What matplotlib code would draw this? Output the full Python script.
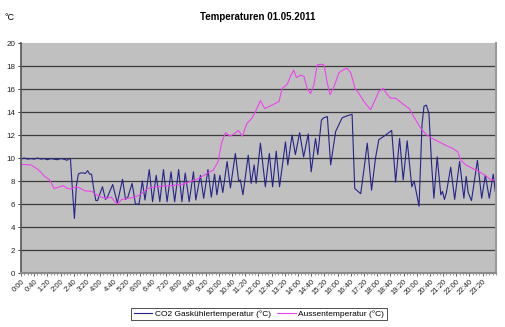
import numpy as np
from matplotlib import pyplot as plt
from matplotlib.ticker import MultipleLocator, FixedLocator, FuncFormatter

plt.rcParams['font.family'] = ['Liberation Sans', 'DejaVu Sans']

# CO2 Gaskühlertemperatur (time, °C)
co2_time = ['0:00', '0:10', '0:20', '0:30', '0:40', '0:50', '1:00', '1:10', '1:20', '1:30',
            '1:40', '1:50', '2:00', '2:10', '2:20', '2:25', '2:30', '2:36', '2:42', '2:48',
            '2:54', '3:00', '3:10', '3:15', '3:22', '3:28', '3:34', '3:40', '3:47', '3:52',
            '4:07', '4:16', '4:22', '4:38', '4:52', '5:08', '5:17', '5:24', '5:37', '5:47',
            '5:58', '6:08', '6:16', '6:29', '6:39', '6:50', '7:01', '7:12', '7:23', '7:35',
            '7:46', '7:58', '8:08', '8:18', '8:30', '8:43', '8:50', '9:04', '9:14', '9:27',
            '9:37', '9:47', '9:54', '10:03', '10:12', '10:25', '10:35', '10:50', '11:00', '11:05',
            '11:13', '11:29', '11:38', '11:47', '11:53', '12:06', '12:21', '12:33', '12:43', '12:54',
            '13:04', '13:22', '13:29', '13:42', '13:52', '14:05', '14:17', '14:31', '14:40', '14:53',
            '15:00', '15:11', '15:18', '15:29', '15:39', '15:54', '16:14', '16:32', '16:44', '16:52',
            '17:10', '17:20', '17:30', '17:43', '17:55', '18:05', '18:26', '18:44', '18:56', '19:08',
            '19:19', '19:31', '19:45', '19:52', '20:07', '20:16', '20:22', '20:29', '20:37', '20:45',
            '20:52', '21:02', '21:13', '21:18', '21:24', '21:30', '21:43', '21:55', '22:10', '22:23',
            '22:30', '22:36', '22:46', '23:04', '23:17', '23:28', '23:40', '23:52', '23:58']
co2_temp = [9.9, 10.0, 9.9, 9.95, 9.9, 10.0, 9.9, 9.95, 9.85, 9.95,
            9.9, 9.85, 9.95, 9.9, 9.8, 9.95, 9.9, 7.2, 4.75, 7.6,
            8.6, 8.7, 8.7, 8.65, 8.9, 8.6, 8.6, 7.4, 6.3, 6.3,
            7.5, 6.4, 6.6, 7.7, 6.1, 8.15, 6.4, 6.6, 7.8, 6.0,
            6.0, 8.0, 6.35, 9.0, 6.2, 8.5, 6.2, 9.0, 6.2, 8.8,
            6.2, 9.0, 6.2, 8.7, 6.2, 8.8, 6.35, 8.5, 6.5, 9.0,
            6.6, 8.6, 6.8, 8.5, 7.0, 9.7, 7.4, 10.4, 8.0, 8.1,
            6.8, 10.25, 7.8, 9.4, 7.8, 11.3, 7.5, 10.4, 7.5, 10.6,
            7.5, 11.4, 9.4, 12.0, 10.3, 12.2, 10.1, 12.1, 8.8, 11.7,
            10.3, 13.3, 13.5, 13.6, 9.4, 12.3, 13.5, 13.7, 13.8, 7.35,
            6.9, 9.0, 11.3, 7.2, 10.0, 11.6, 12.0, 12.4, 7.9, 11.7,
            8.1, 11.5, 7.5, 8.0, 5.8, 12.9, 14.5, 14.6, 13.9, 9.5,
            6.5, 10.1, 6.8, 7.1, 6.4, 7.0, 9.2, 6.4, 9.7, 6.5,
            8.4, 7.0, 6.3, 9.8, 6.5, 8.5, 6.5, 8.6, 7.1]

# Aussentemperatur
out_time = ['0:00', '0:30', '0:52', '1:12', '1:27', '1:40', '1:52', '2:08', '2:21', '2:33',
            '2:45', '2:58', '3:13', '3:34', '3:49', '4:04', '4:19', '4:34', '4:44', '4:53',
            '5:05', '5:25', '5:46', '6:05', '6:21', '6:36', '7:06', '7:37', '8:07', '8:28',
            '8:58', '9:23', '9:43', '9:58', '10:08', '10:20', '10:34', '10:49', '10:59', '11:11',
            '11:25', '11:40', '11:52', '12:06', '12:19', '12:41', '13:02', '13:12', '13:27', '13:37',
            '13:47', '13:55', '14:08', '14:18', '14:28', '14:38', '14:48', '14:58', '15:11', '15:19',
            '15:29', '15:37', '15:49', '16:04', '16:19', '16:29', '16:40', '16:53', '17:05', '17:20',
            '17:40', '17:53', '18:05', '18:18', '18:31', '18:41', '18:56', '19:16', '19:37', '19:57',
            '20:12', '20:28', '20:47', '21:08', '21:28', '21:48', '22:04', '22:14', '22:29', '22:49',
            '23:10', '23:29', '23:45', '23:59']
out_temp = [9.45, 9.4, 9.0, 8.4, 8.1, 7.35, 7.45, 7.6, 7.35, 7.3,
            7.5, 7.4, 7.15, 7.1, 6.8, 6.6, 6.5, 6.6, 6.2, 6.0,
            6.4, 6.5, 6.6, 6.9, 7.3, 7.45, 7.55, 7.6, 7.7, 7.9,
            8.2, 8.65, 8.95, 9.7, 11.3, 12.2, 11.9, 12.15, 12.4, 11.9,
            13.0, 13.45, 14.1, 15.0, 14.3, 14.6, 14.9, 16.05, 16.4, 17.1,
            17.65, 17.0, 17.2, 17.1, 16.05, 15.6, 16.35, 18.1, 18.15, 18.1,
            16.5, 15.5, 16.2, 17.4, 17.7, 17.8, 17.4, 16.05, 15.6, 14.9,
            14.2, 15.0, 15.8, 16.05, 15.5, 15.2, 15.2, 14.75, 14.3, 13.3,
            12.6, 12.05, 11.7, 11.4, 11.1, 10.85, 10.55, 9.8, 9.4, 9.1,
            8.8, 8.46, 8.1, 8.1]

labels = ['CO2 Gaskühlertemperatur (°C)', 'Aussentemperatur (°C)']


def to_min(s):
  h, m = s.split(':')
  return int(h) * 60 + int(m)


fig = plt.figure(figsize=(5.06, 3.27), dpi=100)
ax = fig.add_axes([0.0415, 0.165, 0.9385, 0.7035])
ax.set_facecolor('#C0C0C0')

ax.plot([to_min(t) for t in co2_time], co2_temp, color='#24248A', lw=0.8, label=labels[0])
ax.plot([to_min(t) for t in out_time], out_temp, color='#EE44EE', lw=0.8, label=labels[1])

ax.set_xlim(0, 1440)
ax.set_ylim(0, 20)
ax.yaxis.set_major_locator(MultipleLocator(2))
ax.xaxis.set_major_locator(FixedLocator(np.arange(0, 1401, 40)))
ax.xaxis.set_minor_locator(MultipleLocator(10))
ax.xaxis.set_major_formatter(FuncFormatter(lambda v, p: '%d:%02d' % (v // 60, v % 60)))

for y in range(2, 20, 2):
  ax.axhline(y, color='#3A3A3A', lw=0.9, zorder=1)

ax.tick_params(axis='y', labelsize=5.8, length=2.5, width=0.6, pad=1.5, colors='#222222')
ax.tick_params(axis='x', which='major', labelsize=5.5, length=2.5, width=0.5, pad=1, colors='#222222')
ax.tick_params(axis='x', which='minor', length=1.5, width=0.4, color='#444444')
for lbl in ax.get_xticklabels():
  lbl.set_rotation(45)
  lbl.set_ha('right')
  lbl.set_rotation_mode('anchor')

ax.spines['top'].set_visible(False)
ax.spines['left'].set_color('#555555')
ax.spines['left'].set_linewidth(1.2)
ax.spines['bottom'].set_color('#8A8A8A')
ax.spines['bottom'].set_linewidth(1.5)
ax.spines['right'].set_color('#9A9A9A')
ax.spines['right'].set_linewidth(1.5)

fig.text(0.509, 0.947, 'Temperaturen 01.05.2011', ha='center', va='center', fontsize=7, fontweight='bold')
fig.text(0.008, 0.945, '°C', ha='left', va='center', fontsize=6.5)

leg = fig.legend(loc='center', bbox_to_anchor=(0.512, 0.04), ncol=2, fontsize=6,
                 frameon=True, fancybox=False, edgecolor='black', handlelength=2.2,
                 borderpad=0.3, columnspacing=0.8, handletextpad=0.3)
leg.get_frame().set_linewidth(0.6)

fig.savefig('out.png', dpi=100)
